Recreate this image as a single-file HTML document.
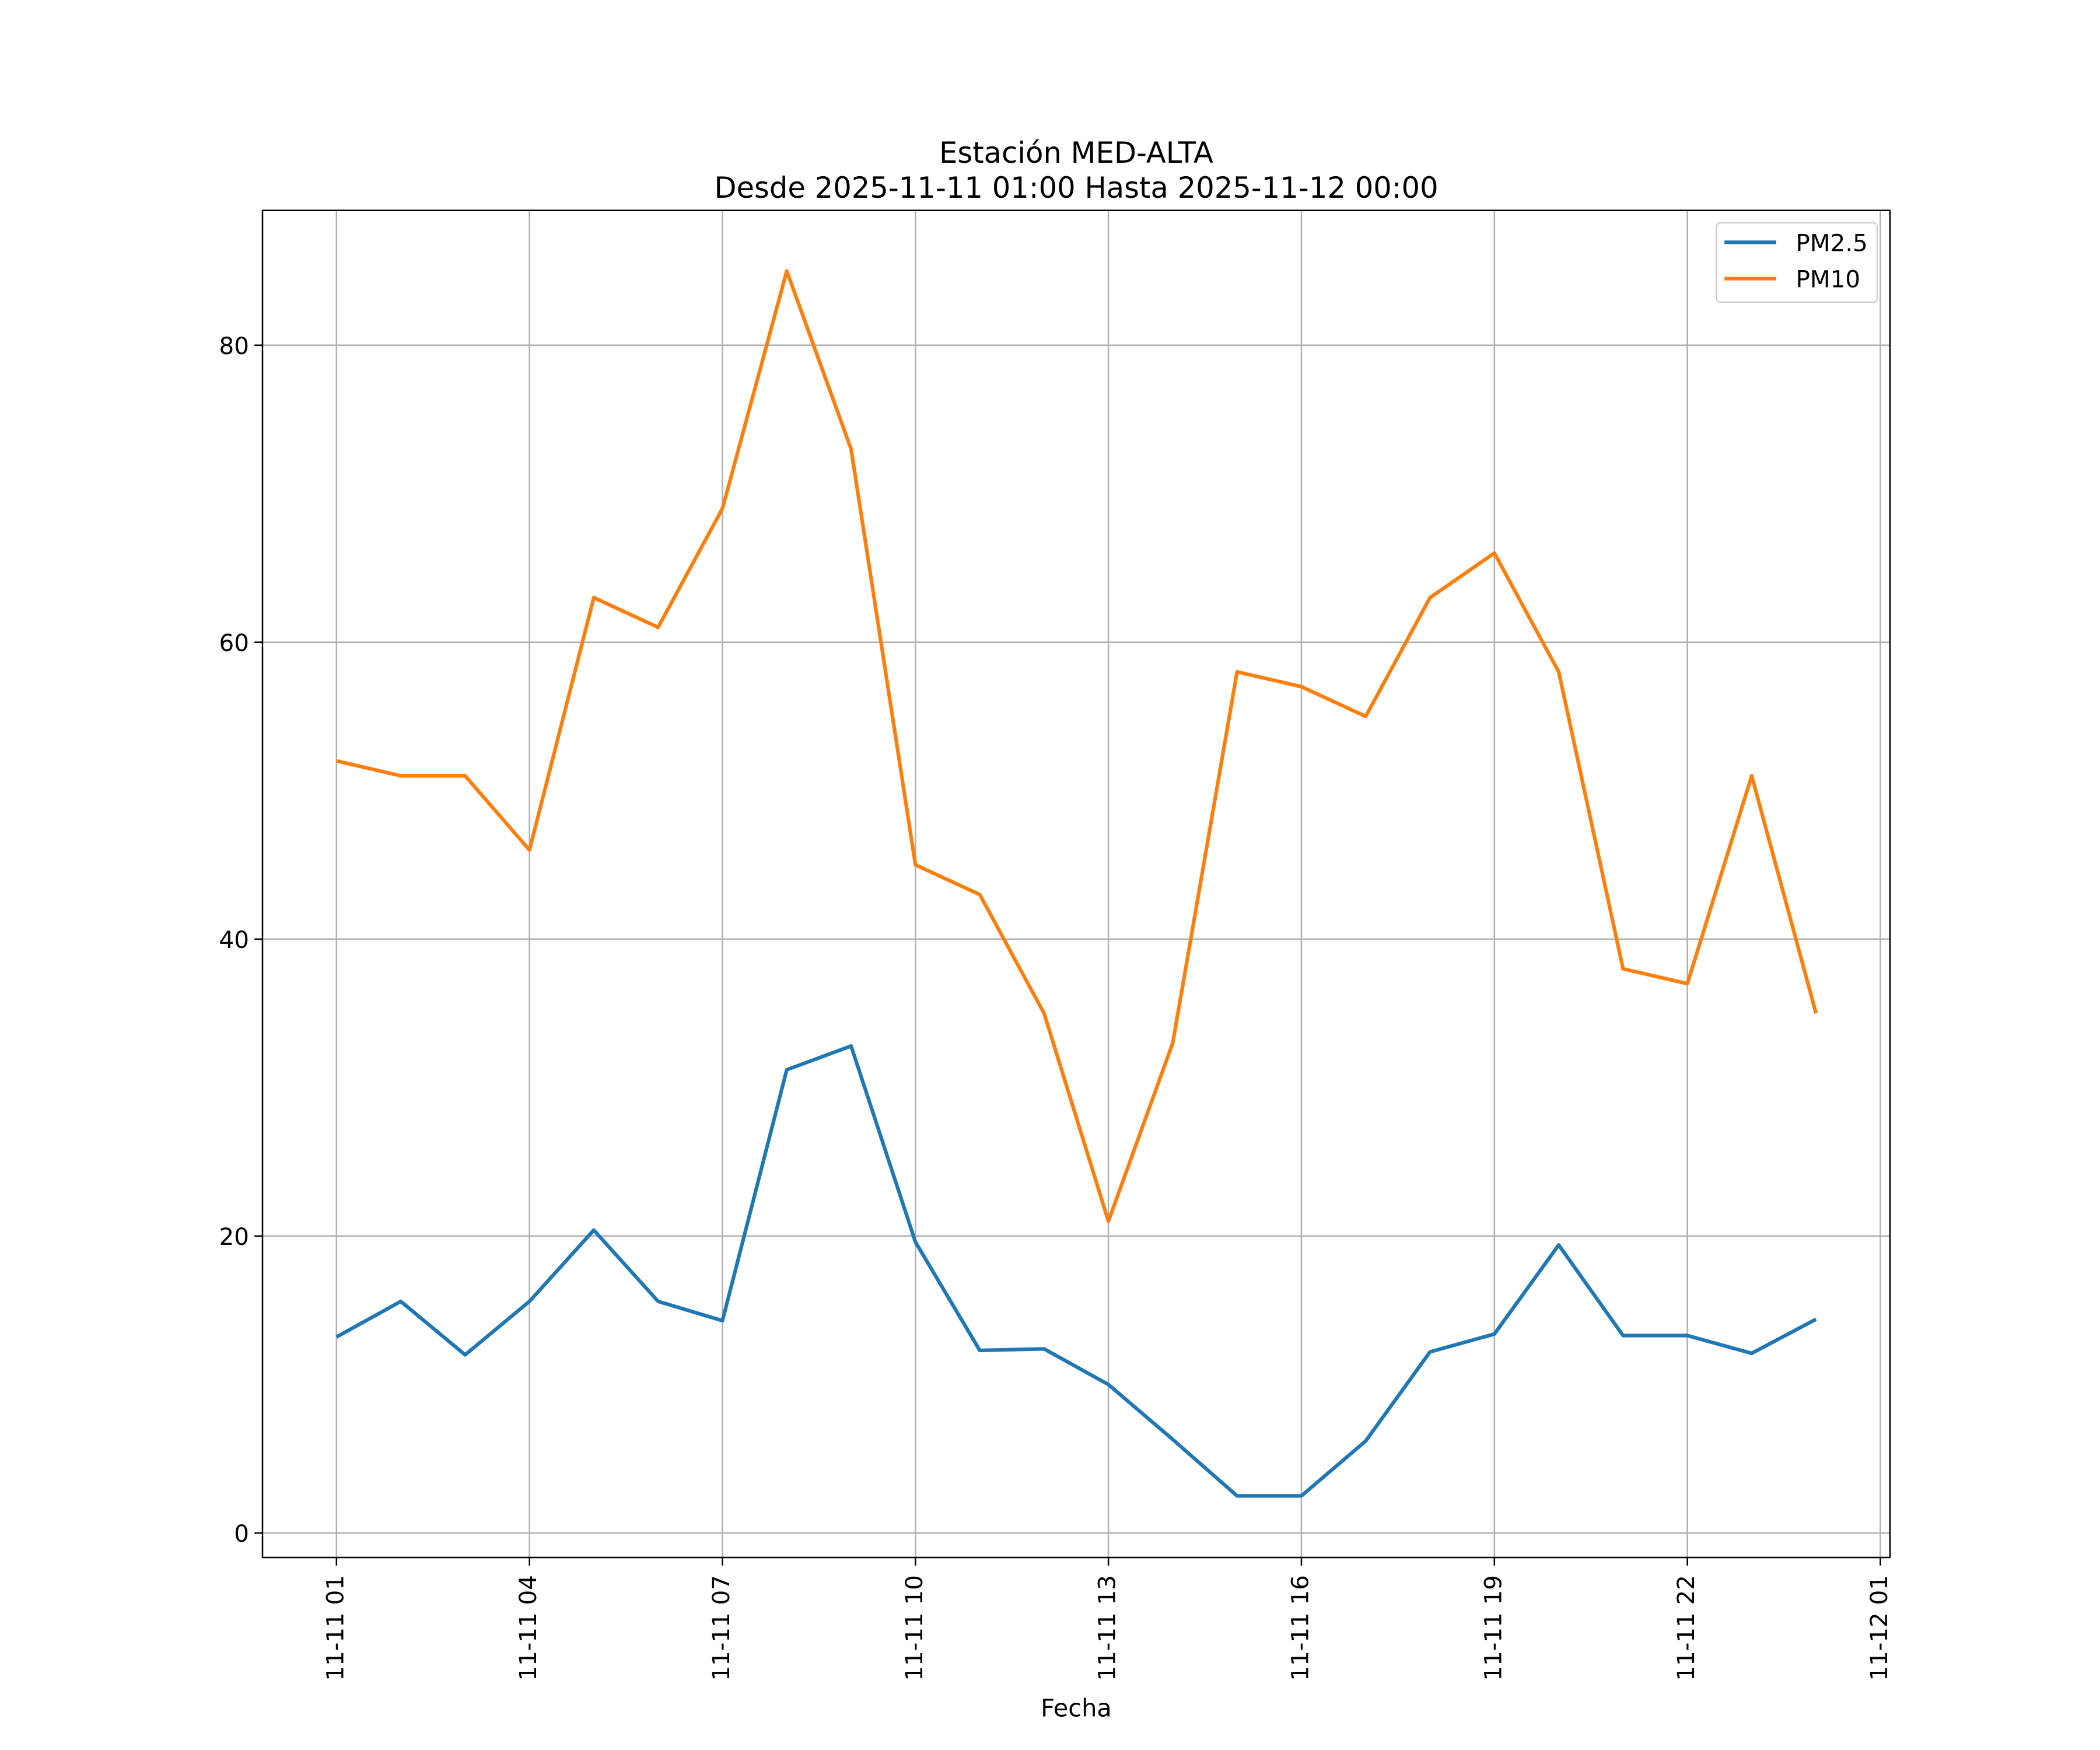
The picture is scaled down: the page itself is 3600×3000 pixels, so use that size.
<!DOCTYPE html>
<html><head><meta charset="utf-8"><style>html,body{margin:0;padding:0;background:#fff}svg{display:block}</style></head>
<body>
<svg id="chart" width="3600" height="3000" viewBox="0 0 1560 1300" xmlns="http://www.w3.org/2000/svg" font-family="'DejaVu Sans','Liberation Sans',sans-serif">
<rect width="1560" height="1300" fill="#fff"/>
<g id="grid"></g>
<g id="series"></g>
<rect x="195" y="156.3" width="1209" height="1000.7" fill="none" stroke="#000" stroke-width="1.1"/>
<g id="axes"></g>
<text x="799.5" y="121" font-size="21.5" text-anchor="middle">Estación MED-ALTA</text>
<text x="799.5" y="147" font-size="21.5" text-anchor="middle">Desde 2025-11-11 01:00 Hasta 2025-11-12 00:00</text>
<text x="799.5" y="1275" font-size="18" text-anchor="middle">Fecha</text>
<g>
<rect x="1275" y="165.5" width="119.5" height="59" rx="3" fill="#fff" fill-opacity="0.8" stroke="#ccc"/>
<line x1="1281" y1="180" x2="1319.5" y2="180" stroke="#1f77b4" stroke-width="2.7"/>
<text x="1334" y="186.5" font-size="17.5">PM2.5</text>
<line x1="1281" y1="207" x2="1319.5" y2="207" stroke="#ff7f0e" stroke-width="2.7"/>
<text x="1334" y="213.5" font-size="17.5">PM10</text>
</g>
</svg>
<script>
const hours = [1,2,3,4,5,6,7,8,9,10,11,12,13,14,15,16,17,18,19,20,21,22,23,24];
const pm25 = [13.2,15.6,12.0,15.6,20.4,15.6,14.3,31.2,32.8,19.6,12.3,12.4,10.0,6.3,2.5,2.5,6.2,12.2,13.4,19.4,13.3,13.3,12.1,14.4];
const pm10 = [52,51,51,46,63,61,69,85,73,45,43,35,21,33,58,57,55,63,66,58,38,37,51,35];
const yTicks = [0,20,40,60,80];
const xTickHours = [1,4,7,10,13,16,19,22,25];
const xTickLabels = ["11-11 01","11-11 04","11-11 07","11-11 10","11-11 13","11-11 16","11-11 19","11-11 22","11-12 01"];
const NS="http://www.w3.org/2000/svg";
const X0=195,X1=1404,Y0=156.3,Y1=1157;
const xMin=-0.15, xMax=25.15;
const yMin=-1.65, yMax=89.08;
const xs=h=>X0+(h-xMin)/(xMax-xMin)*(X1-X0);
const ys=v=>Y1-(v-yMin)/(yMax-yMin)*(Y1-Y0);
function mk(tag,attrs,parent){const e=document.createElementNS(NS,tag);for(const k in attrs)e.setAttribute(k,attrs[k]);parent.appendChild(e);return e;}
const grid=document.getElementById('grid'),axes=document.getElementById('axes'),series=document.getElementById('series');
yTicks.forEach(t=>{
  const y=ys(t);
  const g=mk('line',{x1:X0,x2:X1,y1:y,y2:y,stroke:'#b0b0b0','stroke-width':1.1},grid);
  
  
  const tk=mk('line',{x1:X0-6,x2:X0,y1:y,y2:y,stroke:'#000','stroke-width':1.1},axes);
  
  
  const tx=mk('text',{x:X0-10,y:y+6.5,'font-size':17.5,'text-anchor':'end'},axes);
  tx.textContent=t;
  
  
});
xTickHours.forEach((h,i)=>{
  const x=xs(h);
  const g=mk('line',{x1:x,x2:x,y1:Y0,y2:Y1,stroke:'#b0b0b0','stroke-width':1.1},grid);
  
  
  const tk=mk('line',{x1:x,x2:x,y1:Y1,y2:Y1+6,stroke:'#000','stroke-width':1.1},axes);
  
  
  const tx=mk('text',{x:0,y:0,'font-size':17.5,'text-anchor':'end',transform:`translate(${x+5},${Y1+13}) rotate(-90)`},axes);
  tx.textContent=xTickLabels[i];
  
  
});
function line(vals,color,name){
  const p=mk('polyline',{points:vals.map((v,i)=>xs(hours[i])+','+ys(v)).join(' '),fill:'none',stroke:color,'stroke-width':2.7,'stroke-linejoin':'round'},series);
  
  
}
line(pm25,'#1f77b4','pm25-line');
line(pm10,'#ff7f0e','pm10-line');
</script>
</body></html>
